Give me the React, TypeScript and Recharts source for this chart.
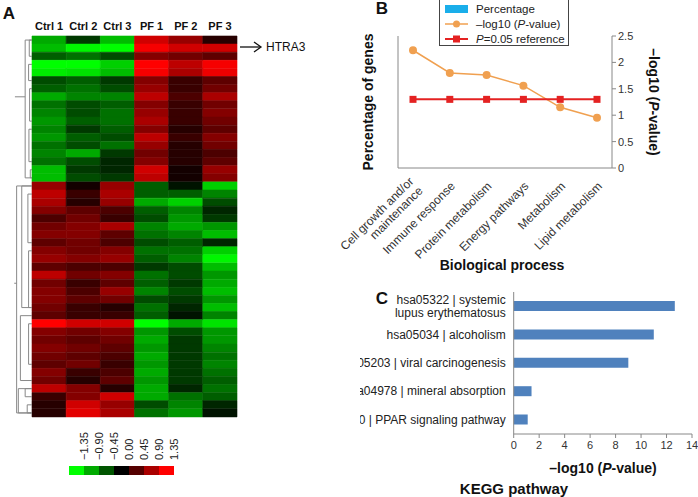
import React from 'react';
import { BarChart, Bar, XAxis, YAxis, Cell, ReferenceLine, LineChart, Line } from 'recharts';

const FONT = "'Liberation Sans', Arial, Helvetica, sans-serif";

// ---- Panel A: heatmap ----
const sampleLabels = ['Ctrl 1', 'Ctrl 2', 'Ctrl 3', 'PF 1', 'PF 2', 'PF 3'];
const ctrl1 = [-0.9, -1.0, -0.5, -1.35, -1.25, -0.4, -0.5, -0.9, -0.6, -0.7, -0.8, -0.7, -0.8, -0.6, -0.7, -0.6, -1.0, -1.0,
  0.8, 1.0, 0.9, 0.7, 0.4, 0.6, 0.7, 0.5, 0.7, 0.8, 0.5, 1.0, 0.6, 0.7, 0.7, 0.6, 0.5, 1.35, 0.7, 0.6, 0.7, 0.6, 0.5, 0.7, 0.6, 1.0, 0.3, 0.2, 0.2];
const ctrl2 = [-0.3, -1.3, -0.6, -1.35, -1.2, -0.5, -0.6, -0.7, -0.4, -0.4, -0.5, -0.3, -0.5, -0.4, -0.9, -0.4, -0.3, -0.4,
  0.1, 0.3, 0.2, 0.5, 0.6, 0.7, 0.7, 0.6, 0.6, 0.7, 0.4, 0.6, 0.3, 0.4, 0.5, 0.3, 0.3, 1.1, 0.6, 0.5, 0.6, 0.5, 0.6, 0.3, 0.2, 0.7, 0.7, 1.1, 1.2];
const ctrl3 = [-1.0, -1.35, -0.4, -1.1, -1.0, -0.3, -0.4, -0.7, -0.5, -0.6, -0.6, -0.5, -0.4, -0.6, -0.3, -0.2, -0.2, -0.3,
  0.8, 0.9, 0.8, 0.4, 0.3, 0.9, 0.5, 0.4, 0.7, 0.8, 0.4, 0.7, 0.5, 0.8, 0.6, 0.2, 0.3, 1.1, 0.7, 0.6, 0.5, 0.4, 0.3, 0.4, 0.5, 0.2, 1.1, 0.8, 0.9];
const pf1 = [1.1, 1.3, 0.7, 1.35, 1.3, 0.7, 0.8, 1.0, 0.7, 0.8, 0.9, 0.7, 1.0, 0.8, 0.6, 0.7, 1.1, 1.0,
  -0.5, -0.5, -0.9, -0.5, -0.4, -0.7, -0.6, -0.4, -0.6, -0.5, -0.3, -0.6, -0.5, -0.7, -0.4, -0.6, -0.5, -1.35, -0.8, -0.9, -0.8, -0.9, -0.8, -0.9, -0.8, -0.9, -0.9, -0.4, -0.6];
const pf2 = [0.8, 1.1, 0.6, 1.0, 0.9, 0.3, 0.3, 0.4, 0.3, 0.3, 0.3, 0.2, 0.3, 0.2, 0.2, 0.2, 0.1, 0.1,
  -0.1, -0.5, -1.1, -0.7, -0.8, -0.9, -0.7, -0.5, -0.6, -0.7, -0.4, -0.4, -0.3, -0.4, -0.3, -0.2, -0.1, -0.9, -0.4, -0.3, -0.3, -0.3, -0.3, -0.3, -0.3, -0.2, -0.6, -0.7, -0.8];
const pf3 = [0.2, 1.1, 0.5, 1.3, 1.25, 0.5, 0.6, 0.9, 0.6, 0.7, 0.6, 0.5, 0.7, 0.6, 0.4, 0.5, 0.8, 0.7,
  -1.1, -0.7, -0.4, -0.2, -0.3, -0.8, -1.0, -0.2, -1.1, -1.3, -1.0, -0.8, -0.9, -1.0, -0.8, -1.0, -0.7, -1.2, -0.8, -0.8, -0.7, -0.6, -0.7, -0.6, -0.5, -0.6, -0.5, -0.2, -0.1];
const heatCols = [ctrl1, ctrl2, ctrl3, pf1, pf2, pf3];
const heatRows = ctrl1.map((_, i) => ({ row: i, s0: 1, s1: 1, s2: 1, s3: 1, s4: 1, s5: 1 }));

// dendrogram: [fromRow, toRow, height]
const dendroLinks: [number, number, number][] = [
  [0, 17, 0.2], [0, 2, 0.08], [3, 5, 0.1], [6, 10, 0.07], [11, 15, 0.09], [16, 17, 0.05],
  [18, 46, 0.45], [18, 33, 0.3], [34, 42, 0.34], [43, 46, 0.4], [43, 44, 0.2], [45, 46, 0.14],
  [19, 25, 0.12], [26, 33, 0.1], [35, 40, 0.1],
];
// stubs: [row, fromHeight, toHeight]
const dendroStubs: [number, number, number][] = [[7, 0.2, 0.5], [30, 0.45, 0.52]];

const scaleLabels = ['\u22121.35', '\u22120.90', '\u22120.45', '0.00', '0.45', '0.90', '1.35'];
const scaleValues = [-1.35, -0.9, -0.45, 0, 0.45, 0.9, 1.35];
const scaleRows = scaleLabels.map((label) => ({ label, one: 1 }));

// ---- Panel B ----
const bpCategories = ['Cell growth and/or\nmaintenance', 'Immune response', 'Protein metabolism', 'Energy pathways', 'Metabolism', 'Lipid metabolism'];
const bpPercent = [14.7, 8.8, 14.7, 16.2, 14.7, 1.5];
const bpLogP = [2.23, 1.8, 1.76, 1.56, 1.15, 0.95];
const bpRef = [1.3, 1.3, 1.3, 1.3, 1.3, 1.3];
const bpData = bpCategories.map((name, i) => ({ name, pct: bpPercent[i], logp: bpLogP[i], ref: bpRef[i] }));
const pctTicks = [0, 5, 10, 15, 20];
const logTicks = [0, 0.5, 1, 1.5, 2, 2.5];

// ---- Panel C ----
const keggPathways = ['hsa05322 | systemic\nlupus erythematosus', 'hsa05034 | alcoholism', 'hsa05203 | viral carcinogenesis', 'hsa04978 | mineral absorption', 'hsa03320 | PPAR signaling pathway'];
const keggLogP = [12.65, 11.0, 9.0, 1.4, 1.1];
const keggData = keggPathways.map((name, i) => ({ name, v: keggLogP[i] }));
const keggTicks = [0, 2, 4, 6, 8, 10, 12, 14];

const BAR_BLUE = '#1AAEEA';
const ORANGE = '#F0A050';
const RED = '#E42222';
const AXIS = '#888';
const tickStyle = { fontSize: 11, fill: '#333', fontFamily: FONT };
const BP_PAD = { left: 15, right: 15 };

function heatColor(v: number) {
  const c = Math.round(Math.min(1, Math.abs(v) / 1.35) * 255);
  return v >= 0 ? `rgb(${c},0,0)` : `rgb(0,${c},0)`;
}

// falls back to an alternative rendering if a chart throws
class Boundary extends React.Component<any, any> {
  state = { err: null as any };
  static getDerivedStateFromError(err: any) { return { err }; }
  render() {
    if (this.state.err) return this.props.fallback ?? null;
    return this.props.children;
  }
}

const Txt = ({ x, y, rot = 0, size = 14, bold = true, children }: any) => (
  <div style={{ position: 'absolute', left: x, top: y, transform: `translate(-50%,-50%) rotate(${rot}deg)`, whiteSpace: 'nowrap', fontSize: size, fontWeight: bold ? 'bold' : 'normal', color: '#111', lineHeight: 1 }}>
    {children}
  </div>
);

const Layer = ({ left = 340, top = 0, children }: any) => (
  <div style={{ position: 'absolute', left, top }}>{children}</div>
);

const scaleTick = ({ x, y, payload }: any) => (
  <text transform={`translate(${x + 8},${y + 2}) rotate(-90)`} textAnchor="start" dy="0.35em" fontSize={11} fill="#222" fontFamily={FONT}>
    {payload.value}
  </text>
);

const bpTick = ({ x, y, payload }: any) => {
  const lines = String(payload.value).split('\n');
  return (
    <g transform={`translate(${x + 3},${y + 8}) rotate(-45)`}>
      {lines.map((l, i) => (
        <text key={i} x={0} y={0} dy={(i - (lines.length - 1) / 2) * 13 + 4} textAnchor="end" fontSize={12} fill="#333" fontFamily={FONT}>{l}</text>
      ))}
    </g>
  );
};

const keggTick = ({ x, y, payload }: any) => {
  const lines = String(payload.value).split('\n');
  return (
    <g>
      {lines.map((l, i) => (
        <text key={i} x={x} y={y} dy={(i - (lines.length - 1) / 2) * 13 + 4} textAnchor="end" fontSize={12} fill="#222" fontFamily={FONT}>{l}</text>
      ))}
    </g>
  );
};

const circleDot = (p: any) => <circle key={`c-${p.index}`} cx={p.cx} cy={p.cy} r={4} fill={ORANGE} />;
const squareDot = (p: any) => <rect key={`sq-${p.index}`} x={p.cx - 3.5} y={p.cy - 3.5} width={7} height={7} fill={RED} />;

const legendItems = [
  { label: <>Percentage</>, kind: 'bar' },
  { label: <>&ndash;log10 (<i>P</i>-value)</>, kind: 'circle' },
  { label: <><i>P</i>=0.05 reference</>, kind: 'square' },
];

// ---- Panel B layers (plot area x 398..612, y 36..168; the bar layer's bands sit inside the padded range) ----
const BAR_MARGIN = { top: 36, right: 101, bottom: 107, left: 73.3 };
const BpBars = () => (
  <BarChart width={358} height={275} data={bpData} margin={BAR_MARGIN} barCategoryGap={6.3}>
    <XAxis dataKey="name" hide />
    <YAxis hide domain={[0, 20]} />
    <Bar dataKey="pct" fill={BAR_BLUE} isAnimationActive={false} />
  </BarChart>
);
const BpBarsAlt = () => (
  <BarChart width={358} height={168} data={bpData} margin={{ ...BAR_MARGIN, bottom: 0 }} barCategoryGap={6.3}>
    <XAxis dataKey="name" orientation="top" height={1} axisLine={false} tickLine={false} tick={false} />
    <YAxis hide domain={[0, 20]} />
    <Bar dataKey="pct" fill={BAR_BLUE} isAnimationActive={false} />
  </BarChart>
);
const BpBarsAlt2 = () => (
  <BarChart width={358} height={275} data={bpData} margin={BAR_MARGIN} barCategoryGap={6.3}>
    <XAxis dataKey="name" hide />
    <Bar dataKey="pct" fill={BAR_BLUE} isAnimationActive={false} />
  </BarChart>
);
const BpCategoryAxis = () => (
  <LineChart width={358} height={275} data={bpData} margin={{ top: 36, right: 86, bottom: 0, left: 58 }}>
    <XAxis dataKey="name" height={107} padding={BP_PAD} interval={0} tickLine={false} stroke={AXIS} tick={bpTick} />
  </LineChart>
);
const BpPctAxis = () => (
  <LineChart width={358} height={275} data={bpData} margin={{ top: 36, right: 86, bottom: 107, left: 0 }}>
    <XAxis dataKey="name" hide padding={BP_PAD} />
    <YAxis width={58} domain={[0, 20]} ticks={pctTicks} stroke={AXIS} tickSize={4} tickMargin={4} tick={tickStyle} />
  </LineChart>
);
// same axis drawn as a mirrored right axis whose line sits on the plot's left edge
const BpPctAxisAlt = () => (
  <LineChart width={60} height={275} data={bpData} margin={{ top: 36, right: 0, bottom: 107, left: 0 }}>
    <XAxis dataKey="name" hide />
    <YAxis orientation="right" mirror width={2} domain={[0, 20]} ticks={pctTicks} stroke={AXIS} tickSize={4} tickMargin={4} tick={tickStyle} />
  </LineChart>
);
const BpLines = () => (
  <LineChart width={358} height={275} data={bpData} margin={{ top: 36, right: 0, bottom: 107, left: 58 }}>
    <XAxis dataKey="name" hide padding={BP_PAD} />
    <YAxis orientation="right" width={86} domain={[0, 2.5]} ticks={logTicks} stroke={AXIS} tickSize={4} tickMargin={2} tick={tickStyle} />
    <Line type="linear" dataKey="logp" stroke={ORANGE} strokeWidth={1.5} dot={circleDot} activeDot={false} isAnimationActive={false} />
    <Line type="linear" dataKey="ref" stroke={RED} strokeWidth={2} dot={squareDot} activeDot={false} isAnimationActive={false} />
  </LineChart>
);

export default function App() {
  const segs = dendroLinks.flatMap(([a, b, h]) => [
    [[-h, a], [-h, b]],
    [[-h, a], [0, a]],
    [[-h, b], [0, b]],
  ]).concat(dendroStubs.map(([r, h1, h2]) => [[-h1, r], [-h2, r]]));

  return (
    <div style={{ position: 'absolute', left: 0, top: 0, width: 698, height: 497, background: '#fff', fontFamily: FONT, overflow: 'hidden' }}>
      {/* Panel A heatmap */}
      <Layer left={0}>
        <Boundary>
          <BarChart width={240} height={420} data={heatRows} layout="vertical" margin={{ top: 6, right: 3, bottom: 3, left: 32 }} barCategoryGap={0} barGap={0}>
            <XAxis type="number" orientation="top" domain={[0, 6]} ticks={[0.5, 1.5, 2.5, 3.5, 4.5, 5.5]} interval={0}
              tickFormatter={(v: number) => sampleLabels[Math.floor(v)]} axisLine={false} tickLine={false} tickSize={4} tickMargin={2} height={30}
              tick={{ fontSize: 11, fontWeight: 'bold', fill: '#111', fontFamily: FONT }} />
            <YAxis type="category" dataKey="row" hide />
            {heatCols.map((col, j) => (
              <Bar key={j} dataKey={`s${j}`} stackId="h" isAnimationActive={false}>
                {col.map((v, i) => (
                  <Cell key={i} fill={heatColor(v)} stroke={heatColor(v)} strokeWidth={0.6} />
                ))}
              </Bar>
            ))}
            {segs.map((s, k) => (
              <ReferenceLine key={k} ifOverflow="visible" stroke={AXIS} strokeWidth={1}
                segment={[{ x: s[0][0], y: s[0][1] }, { x: s[1][0], y: s[1][1] }]} />
            ))}
          </BarChart>
        </Boundary>
      </Layer>
      <svg style={{ position: 'absolute', left: 236, top: 38 }} width={70} height={18}>
        <line x1={4} y1={9} x2={24} y2={9} stroke="#111" strokeWidth={1.3} />
        <path d="M18,4 L25,9 L18,14" fill="none" stroke="#111" strokeWidth={1.3} />
        <text x={30} y={13} fontSize={12} fill="#111" fontFamily={FONT}>HTRA3</text>
      </svg>
      {/* colour scale */}
      <Layer left={60} top={425}>
        <Boundary>
          <BarChart width={125} height={55} data={scaleRows} margin={{ top: 0, right: 11, bottom: 5, left: 9 }} barCategoryGap={0} barGap={0}>
            <XAxis dataKey="label" orientation="top" height={41} axisLine={false} tickLine={false} interval={0} tick={scaleTick} />
            <YAxis hide domain={[0, 1]} />
            <Bar dataKey="one" isAnimationActive={false}>
              {scaleValues.map((v, i) => (
                <Cell key={i} fill={heatColor(v)} />
              ))}
            </Bar>
          </BarChart>
        </Boundary>
      </Layer>

      {/* Panel B */}
      <Layer>
        <Boundary fallback={<Boundary fallback={<Boundary><BpBarsAlt2 /></Boundary>}><BpBarsAlt /></Boundary>}>
          <BpBars />
        </Boundary>
      </Layer>
      <Layer><Boundary><BpCategoryAxis /></Boundary></Layer>
      <Layer><Boundary fallback={<Boundary><BpPctAxisAlt /></Boundary>}><BpPctAxis /></Boundary></Layer>
      <Layer><Boundary><BpLines /></Boundary></Layer>
      <div style={{ position: 'absolute', left: 439, top: 0, width: 130, height: 46, border: '1px solid #444', borderTop: 'none', boxSizing: 'border-box', background: '#fff', fontSize: 11.5, color: '#222' }}>
        {legendItems.map((item, i) => (
          <div key={i} style={{ position: 'absolute', left: 4, top: 2 + i * 15, height: 14, display: 'flex', alignItems: 'center', whiteSpace: 'nowrap' }}>
            <svg width={26} height={12}>
              {item.kind === 'bar' && <rect x={1} y={2} width={23} height={8} fill={BAR_BLUE} />}
              {item.kind === 'circle' && <><line x1={1} y1={6} x2={24} y2={6} stroke={ORANGE} strokeWidth={1.5} /><circle cx={12.5} cy={6} r={3.5} fill={ORANGE} /></>}
              {item.kind === 'square' && <><line x1={1} y1={6} x2={24} y2={6} stroke={RED} strokeWidth={2} /><rect x={9} y={2.5} width={7} height={7} fill={RED} /></>}
            </svg>
            <span style={{ marginLeft: 6 }}>{item.label}</span>
          </div>
        ))}
      </div>
      <Txt x={368} y={102} rot={-90}>Percentage of genes</Txt>
      <Txt x={654} y={102} rot={90}>&ndash;log10 (<i>P</i>-value)</Txt>
      <Txt x={502} y={265}>Biological process</Txt>

      {/* Panel C, clipped at its left edge like the reference */}
      <div style={{ position: 'absolute', left: 360, top: 280, width: 338, height: 217, overflow: 'hidden' }}>
        <div style={{ position: 'absolute', left: -20, top: 0 }}>
          <Boundary>
            <BarChart width={358} height={217} data={keggData} layout="vertical" margin={{ top: 12, right: 6, bottom: 33, left: 0 }}>
              <XAxis type="number" domain={[0, 14]} ticks={keggTicks} interval={0} height={30} stroke={AXIS} tickSize={4} tickMargin={3} tick={tickStyle} />
              <YAxis type="category" dataKey="name" width={173.7} stroke={AXIS} tickLine={false} interval={0} tick={keggTick} />
              <Bar dataKey="v" fill="#4F81BD" barSize={10} isAnimationActive={false} />
            </BarChart>
          </Boundary>
        </div>
      </div>
      <Txt x={603} y={468}>&ndash;log10 (<i>P</i>-value)</Txt>
      <Txt x={514} y={488} size={15}>KEGG pathway</Txt>

      {/* panel letters */}
      <Txt x={9} y={13} size={17}>A</Txt>
      <Txt x={382} y={8} size={17}>B</Txt>
      <Txt x={382} y={298} size={17}>C</Txt>
    </div>
  );
}
